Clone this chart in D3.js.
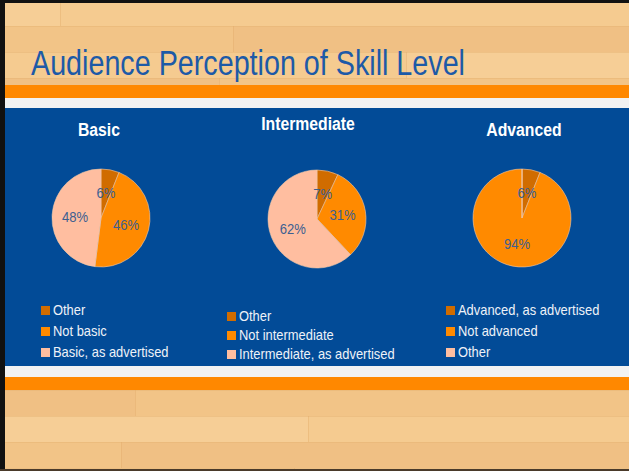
<!DOCTYPE html>
<html>
<head>
<meta charset="utf-8">
<script src="https://cdn.jsdelivr.net/npm/d3@7"></script>
<style>
  body { margin: 0; background: #fff; }
  svg { display: block; }
</style>
</head>
<body>
<svg id="slide" width="629" height="471"></svg>
<script>
//Chart data
const pieTitles = ["Basic", "Intermediate", "Advanced"];
const basicLabels = ["Other", "Not basic", "Basic, as advertised"];
const basicValues = [6, 46, 48];
const interLabels = ["Other", "Not intermediate", "Intermediate, as advertised"];
const interValues = [7, 31, 62];
const advLabels = ["Advanced, as advertised", "Not advanced", "Other"];
const advValues = [6, 94, 0];
const sliceColors = ["#d06c00", "#ff8a00", "#ffbea0"];

const W = 629, H = 471;
const font = "'Liberation Sans', Arial, sans-serif";

var svg = d3.select("#slide");

//Squeeze text horizontally to look like a narrow face
function narrow(sel, f) {
    sel.each(function() {
        var len = this.getComputedTextLength();
        d3.select(this)
            .attr("textLength", len * f)
            .attr("lengthAdjust", "spacingAndGlyphs");
    });
}

//Wood background
var wood = svg.append("g");
wood.append("rect").attr("width", W).attr("height", H).attr("fill", "#f4ca91");
var plankRows = d3.range(0, H, 26);
var tone = d3.scaleOrdinal().domain(d3.range(4)).range(["#f6ce96", "#f2c487", "#f5cb90", "#f0c084"]);
plankRows.forEach(function(y, r) {
    var seam = 60 + (r * 173) % 360;
    wood.append("rect").attr("x", 0).attr("y", y).attr("width", seam).attr("height", 26)
        .attr("fill", tone(r % 4));
    wood.append("rect").attr("x", seam).attr("y", y).attr("width", W - seam).attr("height", 26)
        .attr("fill", tone((r + 2) % 4));
    wood.append("line").attr("x1", 0).attr("x2", W).attr("y1", y + 0.5).attr("y2", y + 0.5)
        .attr("stroke", "#e6b374").attr("stroke-opacity", 0.5);
    wood.append("line").attr("x1", seam + 0.5).attr("x2", seam + 0.5).attr("y1", y).attr("y2", y + 26)
        .attr("stroke", "#e0a968").attr("stroke-opacity", 0.4);
});

//Frame border
svg.append("rect").attr("x", 0).attr("y", 0).attr("width", 5).attr("height", H).attr("fill", "#111");
svg.append("rect").attr("x", 0).attr("y", 0).attr("width", W).attr("height", 3).attr("fill", "#111");
svg.append("rect").attr("x", 0).attr("y", 469).attr("width", W).attr("height", 2).attr("fill", "#4a3a2a");

//Bands
svg.append("rect").attr("x", 5).attr("y", 85).attr("width", W).attr("height", 13).attr("fill", "#ff8800");
svg.append("rect").attr("x", 5).attr("y", 98).attr("width", W).attr("height", 10).attr("fill", "#f2f2f2");
svg.append("rect").attr("x", 5).attr("y", 108).attr("width", W).attr("height", 258).attr("fill", "#024b97");
svg.append("rect").attr("x", 5).attr("y", 366).attr("width", W).attr("height", 11).attr("fill", "#f2f2f2");
svg.append("rect").attr("x", 5).attr("y", 377).attr("width", W).attr("height", 13).attr("fill", "#ff8800");

//Title
svg.append("text")
    .attr("x", 31).attr("y", 75)
    .attr("font-family", font)
    .attr("font-size", 35)
    .attr("fill", "#1d5aa7")
    .attr("textLength", 434)
    .attr("lengthAdjust", "spacingAndGlyphs")
    .text("Audience Perception of Skill Level");

//Pie charts
var charts = [
    {title: pieTitles[0], labels: basicLabels, values: basicValues, cx: 101, cy: 218, tx: 99, ty: 136, lx: 41, ly: 315, step: 21},
    {title: pieTitles[1], labels: interLabels, values: interValues, cx: 317, cy: 219, tx: 308, ty: 130, lx: 227, ly: 321, step: 19},
    {title: pieTitles[2], labels: advLabels, values: advValues, cx: 522, cy: 218, tx: 524, ty: 136, lx: 446, ly: 315, step: 21}
];

var radius = 49;
var pie = d3.pie().sort(null).value(function(d) { return d; });
var arc = d3.arc().innerRadius(0).outerRadius(radius);
var labelArc = d3.arc().innerRadius(radius * 0.53).outerRadius(radius * 0.53);
var color = d3.scaleOrdinal().domain(d3.range(3)).range(sliceColors);

charts.forEach(function(c) {
    //Chart title
    svg.append("text")
        .attr("x", c.tx).attr("y", c.ty)
        .attr("text-anchor", "middle")
        .attr("font-family", font)
        .attr("font-weight", "bold")
        .attr("font-size", 17.5)
        .attr("fill", "#ffffff")
        .text(c.title)
        .call(narrow, 0.9);

    var g = svg.append("g").attr("transform", "translate(" + c.cx + "," + c.cy + ")");
    var arcs = pie(c.values);

    g.selectAll("path")
        .data(arcs)
        .enter().append("path")
        .attr("d", arc)
        .attr("fill", function(d, i) { return color(i); })
        .attr("stroke", "#f0c8a8")
        .attr("stroke-width", 0.6);

    g.selectAll("text")
        .data(arcs.filter(function(d) { return d.value > 0; }))
        .enter().append("text")
        .attr("transform", function(d) { return "translate(" + labelArc.centroid(d) + ")"; })
        .attr("dy", "0.35em")
        .attr("text-anchor", "middle")
        .attr("font-family", font)
        .attr("font-size", 15)
        .attr("fill", "#3c5f91")
        .text(function(d) { return d.value + "%"; })
        .call(narrow, 0.87);

    //Legend
    var leg = svg.append("g");
    c.labels.forEach(function(lab, i) {
        leg.append("rect")
            .attr("x", c.lx).attr("y", c.ly + i * c.step - 9)
            .attr("width", 9).attr("height", 9)
            .attr("fill", color(i));
        leg.append("text")
            .attr("x", c.lx + 12).attr("y", c.ly + i * c.step)
            .attr("font-family", font)
            .attr("font-size", 14.5)
            .attr("fill", "#eef2f8")
            .text(lab)
            .call(narrow, 0.89);
    });
});
</script>
</body>
</html>
